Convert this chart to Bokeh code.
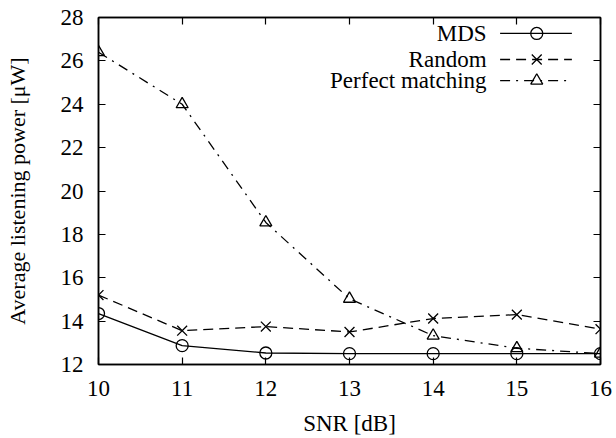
from bokeh.plotting import figure
from bokeh.models import LinearAxis, Range1d, FixedTicker, CustomLabelingPolicy
from bokeh.core.properties import value
from bokeh.embed import file_html
from bokeh.resources import INLINE

snr = [10, 11, 12, 13, 14, 15, 16]
mds = [14.35, 12.87, 12.53, 12.5, 12.5, 12.5, 12.5]
random_ = [15.2, 13.56, 13.75, 13.5, 14.12, 14.3, 13.63]
perfect = [26.4, 24.0, 18.55, 15.03, 13.33, 12.75, 12.5]
series_names = ["MDS", "Random", "Perfect matching"]
x_ticks = [10, 11, 12, 13, 14, 15, 16]
y_ticks = [12, 14, 16, 18, 20, 22, 24, 26, 28]

FONT = "Liberation Serif"
FS = "23px"

p = figure(width=616, height=438, output_backend="svg", toolbar_location=None,
           x_range=Range1d(10, 16), y_range=Range1d(12, 28),
           min_border_left=98, min_border_right=16, min_border_top=17, min_border_bottom=73,
           x_axis_label="SNR [dB]", y_axis_label="Average listening power [μW]")
p.grid.visible = False
p.outline_line_color = "black"
p.outline_line_width = 1.5
p.background_fill_color = "white"
p.border_fill_color = "white"

for ax, ticks in ((p.xaxis[0], x_ticks), (p.yaxis[0], y_ticks)):
    ax.ticker = FixedTicker(ticks=ticks)
    ax.major_tick_in = 7
    ax.major_tick_out = 0
    ax.minor_tick_line_color = None
    ax.axis_line_width = 1.5
    ax.major_tick_line_width = 1.2
    ax.major_label_text_font = FONT
    ax.major_label_text_font_size = FS
    ax.major_label_text_color = "black"
    ax.axis_label_text_font = FONT
    ax.axis_label_text_font_size = FS
    ax.axis_label_text_font_style = "normal"
    ax.axis_label_text_color = "black"
p.yaxis[0].axis_label_text_font_size = "22px"
p.xaxis[0].major_label_standoff = 16
p.yaxis[0].major_label_standoff = 15
p.xaxis[0].axis_label_standoff = 12
p.yaxis[0].axis_label_standoff = 28

hide_labels = CustomLabelingPolicy(code="""
const all = [...indices];
for (const i of all) indices.unset(i);
""")
for side, ticks in (("above", x_ticks), ("right", y_ticks)):
    ax = LinearAxis(ticker=FixedTicker(ticks=ticks), major_tick_in=7, major_tick_out=0,
                    minor_tick_line_color=None, major_label_policy=hide_labels,
                    major_label_standoff=0, axis_line_width=1.5, major_tick_line_width=1.2)
    p.add_layout(ax, side)

# data lines
p.line(snr, mds, line_color="black", line_width=1.3)
p.scatter(snr, mds, marker="circle", size=12, fill_color=None, line_color="black", line_width=1.3)
p.line(snr, random_, line_color="black", line_width=1.3, line_dash="10 6")
p.scatter(snr, random_, marker="x", size=14, line_color="black", line_width=1.3)
p.line(snr, perfect, line_color="black", line_width=1.3, line_dash="10 6 2 6")
p.scatter(snr, perfect, marker="triangle", size=12, fill_color=None, line_color="black", line_width=1.3)

# manual legend (text left, sample right), positioned as frame fractions
x0, x1 = 10, 16
y0, y1 = 12, 28
def fx(f):
    return x0 + f * (x1 - x0)
def fy(f):
    return y1 - f * (y1 - y0)
rows = [0.046, 0.121, 0.182]
styles = [("solid", "circle"), ("10 6", "x"), ("10 6 2 6", "triangle")]
for name, r, (dash, mk) in zip(series_names, rows, styles):
    yy = fy(r)
    p.text([fx(0.773)], [yy], text=[name], text_align="right", text_baseline="middle",
           text_font=value(FONT), text_font_size=FS, text_color="black")
    p.line([fx(0.80), fx(0.943)], [yy, yy], line_color="black", line_width=1.3, line_dash=dash)
    p.scatter([fx(0.873)], [yy], marker=mk, size=14 if mk == "x" else 12,
              fill_color=None, line_color="black", line_width=1.3)

open("out.html", "w").write(file_html(p, INLINE))
